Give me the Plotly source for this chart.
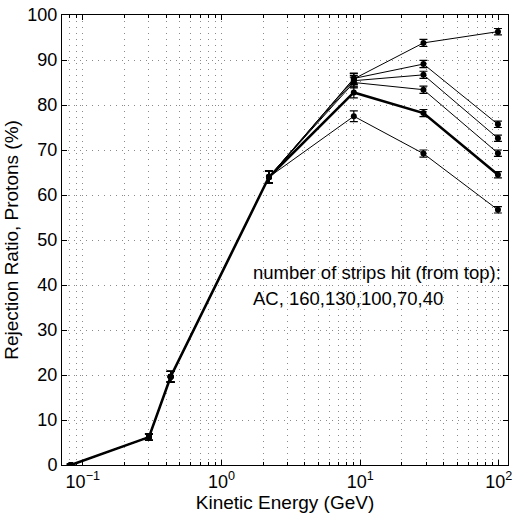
import plotly.graph_objects as go

# Kinetic energy (GeV)
energy = [0.082, 0.30, 0.43, 2.2, 9.0, 28.6, 98.5]

# Rejection ratio (%) per strip setting
labels = ["AC", "160", "130", "100", "70", "40"]
values = {
    "AC":  [0.0, 6.2, 19.6, 64.0, 85.8, 93.8, 96.3],
    "160": [0.0, 6.2, 19.6, 64.0, 85.9, 89.1, 75.7],
    "130": [0.0, 6.2, 19.6, 64.0, 85.4, 86.7, 72.6],
    "100": [0.0, 6.2, 19.6, 64.0, 85.0, 83.4, 69.3],
    "70":  [0.0, 6.2, 19.6, 64.0, 82.8, 78.2, 64.5],
    "40":  [0.0, 6.2, 19.6, 64.0, 77.5, 69.2, 56.7],
}
errors = [0.2, 0.7, 1.2, 1.3, 1.2, 0.8, 0.7]

x_tickvals = [0.1, 1, 10, 100]
x_ticktext = ["10<sup>−1</sup>", "10<sup>0</sup>", "10<sup>1</sup>", "10<sup>2</sup>"]
x_minor = [0.08, 0.09] + [k * 0.1 for k in range(2, 10)] + list(range(2, 10)) + [k * 10 for k in range(2, 10)]
y_tickvals = list(range(0, 101, 10))

fig = go.Figure()
for name in labels:
    fig.add_trace(go.Scatter(
        x=energy, y=values[name], mode="lines+markers", name=name,
        line=dict(color="black", width=2.6 if name == "70" else 1),
        marker=dict(color="black", size=6, symbol="circle"),
        error_y=dict(type="data", array=errors, color="black", thickness=1.2, width=4),
        showlegend=False,
    ))

font = "Liberation Sans, Arial, Helvetica, sans-serif"
fig.update_layout(
    width=517, height=518,
    margin=dict(l=62, r=5, t=14, b=53),
    paper_bgcolor="white", plot_bgcolor="white",
    font=dict(family=font, size=18, color="black"),
    xaxis=dict(
        type="log", range=[-1.15, 2.066],
        tickvals=x_tickvals, ticktext=x_ticktext,
        ticks="inside", ticklen=5, tickcolor="black", mirror="allticks",
        showline=True, linecolor="black", linewidth=1,
        showgrid=True, gridcolor="#8a8a8a", gridwidth=1, griddash="1px,5px",
        minor=dict(tickvals=x_minor, ticks="inside", ticklen=3, tickcolor="black",
                   showgrid=True, gridcolor="#8a8a8a", gridwidth=1, griddash="1px,5px"),
        title=dict(text="Kinetic Energy (GeV)", standoff=4, font=dict(size=19)),
        tickfont=dict(size=18), zeroline=False,
    ),
    yaxis=dict(
        range=[0, 100], tickvals=y_tickvals,
        ticks="inside", ticklen=5, tickcolor="black", mirror="allticks",
        showline=True, linecolor="black", linewidth=1,
        showgrid=True, gridcolor="#8a8a8a", gridwidth=1, griddash="1px,5px",
        title=dict(text="Rejection Ratio, Protons (%)", standoff=3, font=dict(size=19)),
        tickfont=dict(size=18), zeroline=False,
    ),
    annotations=[
        dict(xref="paper", yref="paper", x=0.424, y=0.428, xanchor="left", yanchor="middle",
             text="number of strips hit (from top):", showarrow=False, font=dict(size=18.5)),
        dict(xref="paper", yref="paper", x=0.424, y=0.370, xanchor="left", yanchor="middle",
             text="AC, 160,130,100,70,40", showarrow=False, font=dict(size=18.5)),
    ],
)

fig.write_html("out.html")
